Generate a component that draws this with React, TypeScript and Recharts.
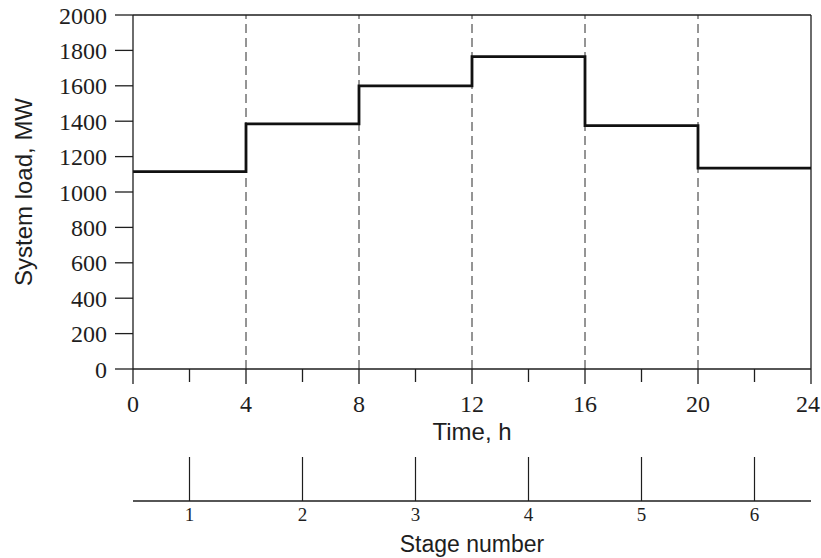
import React from 'react';
import { ComposedChart, Line, XAxis, YAxis, ReferenceLine } from 'recharts';

// ---- data ----
const hours = [0, 4, 8, 12, 16, 20, 24];
const systemLoad = [1115, 1385, 1600, 1765, 1375, 1135, 1135];
const stageBoundaries = [4, 8, 12, 16, 20];
const stageNumbers = [1, 2, 3, 4, 5, 6];
const stageMidpoints = [2, 6, 10, 14, 18, 22];
const timeTicks = [0, 2, 4, 6, 8, 10, 12, 14, 16, 18, 20, 22, 24];
const majorTimeTicks = [0, 4, 8, 12, 16, 20, 24];
const loadTicks = [0, 200, 400, 600, 800, 1000, 1200, 1400, 1600, 1800, 2000];

const data = hours.map((h, i) => ({ hour: h, load: systemLoad[i] }));

const INK = '#1e1e1e';
const SERIF = '"Liberation Serif", "Times New Roman", serif';
const SANS = '"Liberation Sans", Arial, sans-serif';

const TIME_AXIS = 'a_time';
const STAGE_AXIS = 'b_stage';

const TimeTick = (props: any) => {
  const { x, y, payload } = props;
  const major = majorTimeTicks.includes(payload.value);
  const tx = Math.min(x, 808);
  return (
    <g>
      <line x1={x} y1={y} x2={x} y2={y + (major ? 15 : 13)} stroke={INK} strokeWidth={1.3} />
      {major && (
        <text x={tx} y={y + 26} dy="0.71em" textAnchor="middle" fontFamily={SERIF} fontSize={24} fill={INK}>
          {payload.value}
        </text>
      )}
    </g>
  );
};

const StageTick = (props: any) => {
  const { x, y, payload } = props;
  const idx = stageMidpoints.indexOf(payload.value);
  return (
    <g>
      <line x1={x} y1={y - 44} x2={x} y2={y} stroke={INK} strokeWidth={1.2} />
      <text x={x} y={y + 7} dy="0.71em" textAnchor="middle" fontFamily={SERIF} fontSize={19} fill={INK}>
        {stageNumbers[idx]}
      </text>
    </g>
  );
};

export default function App() {
  return (
    <div style={{ position: 'absolute', left: 0, top: 0, width: 821, height: 558, background: '#fff' }}>
      <ComposedChart width={821} height={558} data={data} margin={{ top: 15, right: 10, left: 0, bottom: 0 }}>
        <XAxis
          xAxisId={TIME_AXIS}
          dataKey="hour"
          type="number"
          domain={[0, 24]}
          ticks={timeTicks}
          interval={0}
          height={132}
          tickSize={0}
          tickMargin={0}
          tickLine={false}
          tick={<TimeTick />}
          axisLine={{ stroke: INK, strokeWidth: 1.5 }}
          label={{ value: 'Time, h', position: 'insideBottom', offset: 61, style: { fontFamily: SANS, fontSize: 24, fill: INK } }}
        />
        <XAxis
          xAxisId={STAGE_AXIS}
          dataKey="hour"
          type="number"
          domain={[0, 24]}
          ticks={stageMidpoints}
          interval={0}
          height={57}
          tickSize={0}
          tickMargin={0}
          tickLine={false}
          tick={<StageTick />}
          axisLine={{ stroke: INK, strokeWidth: 1.5 }}
          label={{ value: 'Stage number', position: 'insideBottom', offset: 6, style: { fontFamily: SANS, fontSize: 23, fill: INK } }}
        />
        <YAxis
          type="number"
          domain={[0, 2000]}
          ticks={loadTicks}
          interval={0}
          width={133}
          tickSize={18}
          tickMargin={8}
          tickLine={{ stroke: INK, strokeWidth: 1.3 }}
          axisLine={{ stroke: INK, strokeWidth: 1.3 }}
          tick={{ fontFamily: SERIF, fontSize: 24, fill: INK }}
          label={{ value: 'System load, MW', angle: -90, position: 'insideLeft', offset: 23, style: { textAnchor: 'middle', fontFamily: SANS, fontSize: 24, fill: INK } }}
        />
        {stageBoundaries.map((b) => (
          <ReferenceLine key={b} xAxisId={TIME_AXIS} x={b} stroke="#2a2a2a" strokeWidth={1} strokeDasharray="9 5" />
        ))}
        <ReferenceLine xAxisId={TIME_AXIS} y={2000} stroke={INK} strokeWidth={1.3} />
        <ReferenceLine xAxisId={TIME_AXIS} x={24} stroke={INK} strokeWidth={1.3} />
        <Line
          xAxisId={TIME_AXIS}
          dataKey="load"
          type="stepAfter"
          stroke="#111"
          strokeWidth={2.8}
          dot={false}
          activeDot={false}
          isAnimationActive={false}
        />
      </ComposedChart>
    </div>
  );
}
